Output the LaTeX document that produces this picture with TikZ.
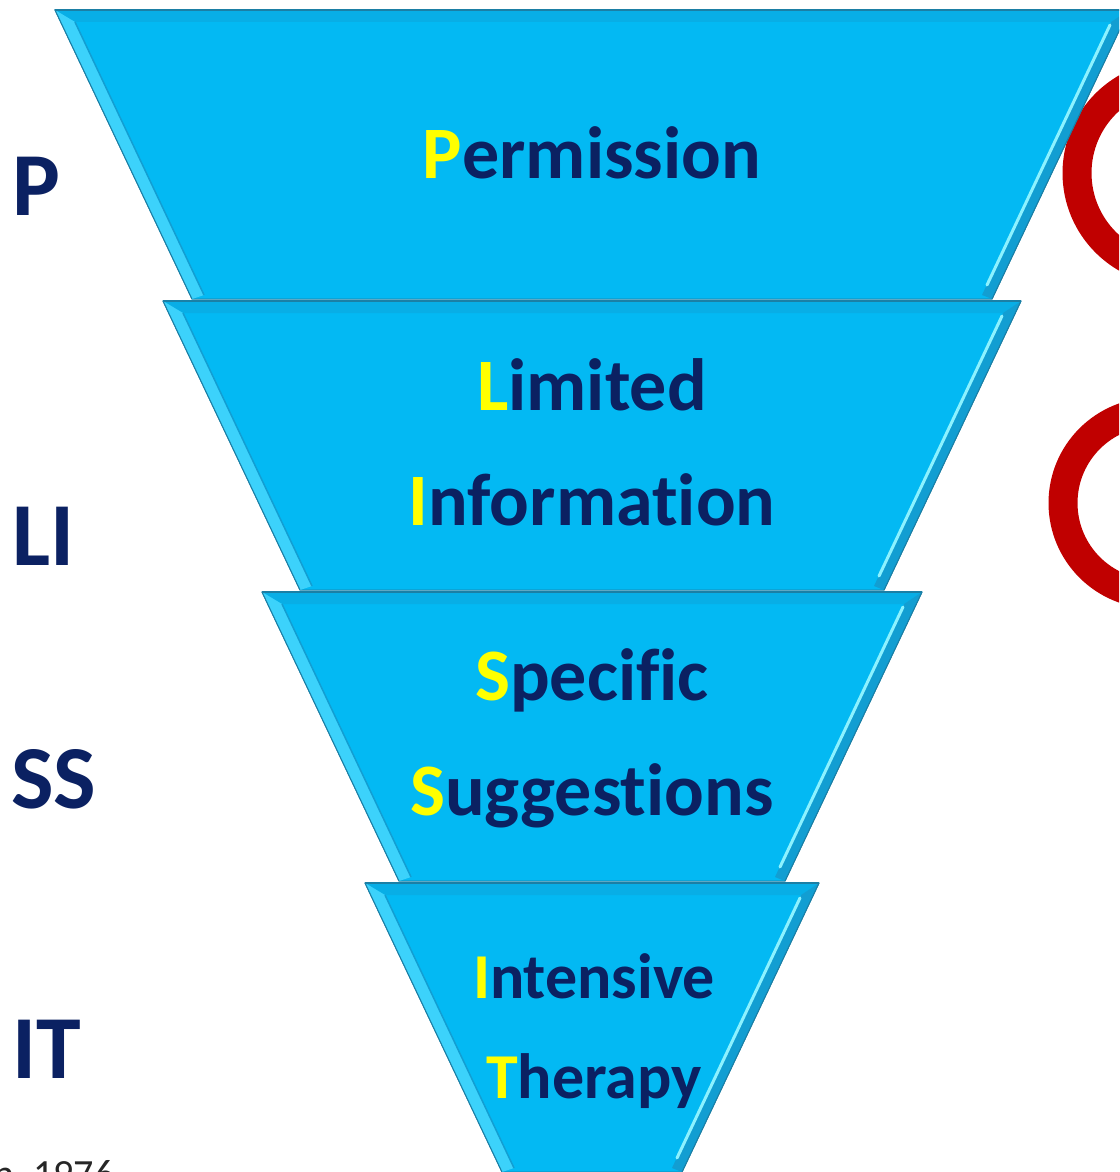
\documentclass[tikz,border=0pt]{standalone}
\usepackage{fontspec}
\setmainfont{Carlito}[Ligatures=NoCommon]
\usetikzlibrary{calc}
\definecolor{funnelblue}{HTML}{03B9F3}
\definecolor{bevellight}{HTML}{3CD2FB}
\definecolor{beveldark}{HTML}{129ED2}
\definecolor{bevelline}{HTML}{1B7FA5}
\definecolor{topband}{HTML}{08AEE6}
\definecolor{shine}{HTML}{8CF2FF}
\definecolor{navytext}{HTML}{0B2162}
\definecolor{firstletter}{HTML}{FFFF00}
\definecolor{loopred}{HTML}{C00000}
\tikzset{
  funnel/.style={fill=funnelblue, draw=bevelline, line width=1pt},
  word/.style={font=\fontsize{74}{80}\selectfont\bfseries, text=navytext, inner sep=0pt, anchor=base},
  smallword/.style={word, font=\fontsize{64}{70}\selectfont\bfseries},
  letter/.style={font=\fontsize{90}{96}\selectfont\bfseries, text=navytext, inner sep=0pt, anchor=base west},
  loop arc/.style={draw=loopred, line width=29pt}
}
\newcommand{\capletter}[1]{\textcolor{firstletter}{#1}}
% one bevelled step of the funnel: name, top y, top half width
\newcommand{\funnelpart}[3]{%
  \draw [funnel] (592-#3,#2) coordinate (#1tl) --
      (592+#3,#2) coordinate (#1tr) --
      (592+#3-137,#2+289) coordinate (#1br) --
      (592-#3+137,#2+289) coordinate (#1bl) -- cycle;
  \fill [topband] (#1tl) -- (#1tr) -- ($(#1tr)+(-18,12)$) -- ($(#1tl)+(20,12)$) -- cycle;
  \fill [bevellight] (#1tl) -- ($(#1tl)+(20,12)$) -- ($(#1bl)+(12,-4)$) -- (#1bl) -- cycle;
  \draw [beveldark, line width=1.5pt] ($(#1tl)+(20,12)$) -- ($(#1bl)+(12,-4)$);
  \fill [beveldark] (#1tr) -- (#1br) -- ($(#1br)+(-10,-4)$) -- ($(#1tr)+(-18,12)$) -- cycle;
  \draw [shine, line width=3pt, line cap=round] ($(#1tr)+(-19,15)$) -- ($(#1br)+(-5,-14)$);
  \draw [bevelline, line width=2.5pt] (#1tl) -- (#1tr);
  \draw [bevelline, line width=1pt] (#1tr) -- (#1br) (#1tl) -- (#1bl);
}

\begin{document}
\begin{tikzpicture}[x=1pt, y=-1pt]
    \useasboundingbox (0,0) rectangle (1119,1172);
    \clip (0,0) rectangle (1119,1172);
    % the two red loops on the right
    \draw [loop arc] (1175,173) circle (98);
    \draw [loop arc] (1154,503) circle (91);
    % funnel
    \funnelpart{perm}{10}{537}
    \funnelpart{info}{301}{429}
    \funnelpart{sugg}{592}{330}
    \funnelpart{ther}{883}{227}
    \node [word] (permission) at (592,178) {\capletter{P}ermission};
    \node [word] (limited) at (592,410) {\capletter{L}imited};
    \node [word] (information) at (592,525) {\capletter{I}nformation};
    \node [word] (specific) at (592,700) {\capletter{S}pecific};
    \node [word] (suggestions) at (592,815) {\capletter{S}uggestions};
    \node [smallword] (intensive) at (594,998) {\capletter{I}ntensive};
    \node [smallword] (therapy) at (594,1098) {\capletter{T}herapy};
    % letters on the left
    \node [letter] (labP) at (12,215) {P};
    \node [letter] (labLI) at (12,565) {LI};
    \node [letter] (labSS) at (11,808) {SS};
    \node [letter] (labIT) at (12,1078) {IT};
    \node [anchor=base west, inner sep=0pt, font=\fontsize{40}{44}\selectfont, text=black!85] (source) at (-7,1187) {n, 1976};
\end{tikzpicture}
\end{document}
